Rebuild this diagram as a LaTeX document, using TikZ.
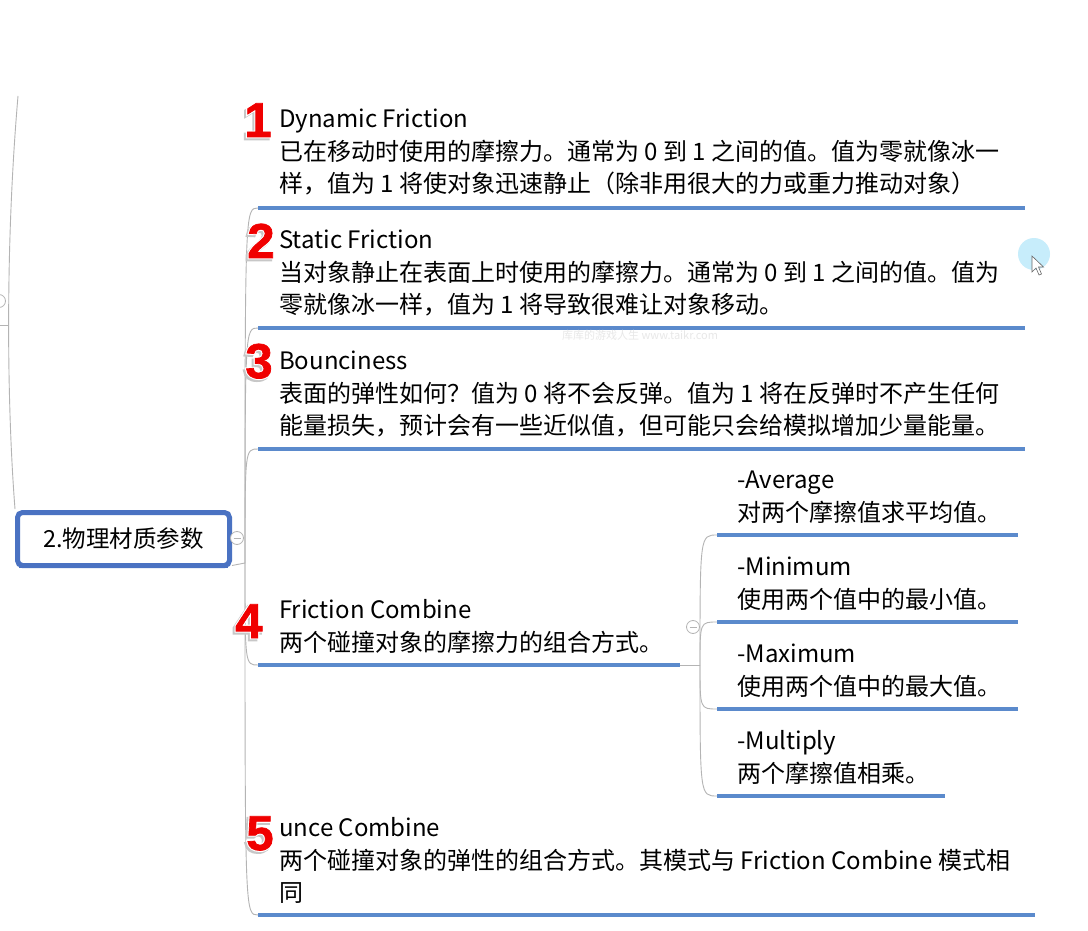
\documentclass[tikz,border=0pt]{standalone}
\usepackage{fontspec}
\setmainfont{Noto Sans CJK SC}
\newfontfamily\numfont{Liberation Sans Bold}[FakeBold=1.5]
\newfontfamily\halofont{Liberation Sans Bold}[FakeBold=6]
\usetikzlibrary{calc}
\definecolor{ublue}{HTML}{5B8ACC}
\definecolor{bblue}{HTML}{4A72C2}
\definecolor{lgrey}{HTML}{B4B4B4}
\definecolor{nred}{HTML}{F00000}
\tikzset{
  txt/.style={anchor=base west, inner sep=0pt, font=\fontsize{24}{28}\selectfont},
  uline/.style={draw=ublue, line width=4pt},
  conn/.style={draw=lgrey, line width=0.9pt},
  numlab/.style={anchor=base, inner sep=0pt, text=nred, font=\numfont\fontsize{49}{49}\selectfont},
  halo/.style={anchor=base, inner sep=0pt, text=white, font=\halofont\fontsize{49}{49}\selectfont},
  shade/.style={halo, text=black!22},
  toggle/.style={circle, draw=lgrey, fill=white, minimum size=13pt, inner sep=0pt, line width=0.8pt},
}
\newcommand\nummark[3]{%
  \node[shade, xshift=-2pt, yshift=-2pt] (#1s) at (#2) {#3};
  \node[halo] (#1h) at (#2) {#3};
  \node[numlab] (#1) at (#2) {#3};
}
\begin{document}
\begin{tikzpicture}[x=1pt,y=-1pt]
\fill[white] (0,0) rectangle (1088,931);
\useasboundingbox (0,0) rectangle (1088,931);

% left partial branch
\coordinate (ltop) at (18,96);
\coordinate (lstub) at (0,325);
\node[toggle] (tg0) at (-1,301) {};
\draw[conn] (lstub) -- ++(8,0);

% root
\node[draw=bblue, line width=5pt, rounded corners=5pt, minimum width=212pt, minimum height=53pt,
      fill=white, inner sep=0pt, font=\fontsize{23.5}{28}\selectfont] (root) at (123.5,539) {2.物理材质参数};
\draw[bblue, line width=4pt] ($(root.south west)+(4,-2.5)$) -- ($(root.south east)+(-4,-2.5)$);
\draw[conn] (ltop) .. controls (4,260) and (8,420) .. ($(root.north west)+(0,-1)$);

% hub and topic anchors
\coordinate (hub) at (245,563);
\coordinate (u1) at (258,208); \coordinate (u1e) at (1025,208);
\coordinate (u2) at (258,328); \coordinate (u2e) at (1025,328);
\coordinate (u3) at (258,449); \coordinate (u3e) at (1025,449);
\coordinate (u4) at (258,665); \coordinate (u4e) at (680,665);
\coordinate (u5) at (258,915); \coordinate (u5e) at (1035,915);

\draw[conn] ($(root.south east)+(0,-2.5)$) -- (hub);
\foreach \u in {u1,u2,u3,u4,u5}{\draw[conn] (hub) .. controls (hub |- \u) .. (\u);}
\node[toggle] (tg1) at (237,538) {};
\draw[lgrey, line width=0.8pt] ($(tg1.center)+(-3.5,0)$) -- ($(tg1.center)+(3.5,0)$);

% sub hub
\coordinate (shub) at (700,665);
\coordinate (s1) at (717,535); \coordinate (s1e) at (1018,535);
\coordinate (s2) at (717,622); \coordinate (s2e) at (1018,622);
\coordinate (s3) at (717,709); \coordinate (s3e) at (1018,709);
\coordinate (s4) at (717,796); \coordinate (s4e) at (945,796);
\draw[conn] (u4e) -- (shub);
\foreach \s in {s1,s2,s3,s4}{\draw[conn] (shub) .. controls (shub |- \s) .. (\s);}
\node[toggle] (tg2) at (693,627) {};
\draw[lgrey, line width=0.8pt] ($(tg2.center)+(-3.5,0)$) -- ($(tg2.center)+(3.5,0)$);

% underlines
\foreach \u in {u1,u2,u3,u4,u5,s1,s2,s3,s4}{\draw[uline] (\u) -- (\u e);}

% topic texts
\node[txt] (t1a) at (279,128) {Dynamic Friction};
\node[txt] (t1b) at (279,161) {已在移动时使用的摩擦力。通常为 0 到 1 之间的值。值为零就像冰一};
\node[txt] (t1c) at (279,193) {样，值为 1 将使对象迅速静止（除非用很大的力或重力推动对象）};

\node[txt] (t2a) at (279,248) {Static Friction};
\node[txt] (t2b) at (279,281) {当对象静止在表面上时使用的摩擦力。通常为 0 到 1 之间的值。值为};
\node[txt] (t2c) at (279,313) {零就像冰一样，值为 1 将导致很难让对象移动。};

\node[txt] (t3a) at (279,369) {Bounciness};
\node[txt] (t3b) at (279,402) {表面的弹性如何？值为 0 将不会反弹。值为 1 将在反弹时不产生任何};
\node[txt] (t3c) at (279,434) {能量损失，预计会有一些近似值，但可能只会给模拟增加少量能量。};

\node[txt] (t4a) at (279,618) {Friction Combine};
\node[txt] (t4b) at (279,651) {两个碰撞对象的摩擦力的组合方式。};

\node[txt] (t5a) at (279,836) {unce Combine};
\node[txt] (t5b) at (279,869) {两个碰撞对象的弹性的组合方式。其模式与 Friction Combine 模式相};
\node[txt] (t5c) at (279,901) {同};

% sub texts
\node[txt] (s1a) at (737,488) {-Average};
\node[txt] (s1b) at (737,521) {对两个摩擦值求平均值。};
\node[txt] (s2a) at (737,575) {-Minimum};
\node[txt] (s2b) at (737,608) {使用两个值中的最小值。};
\node[txt] (s3a) at (737,662) {-Maximum};
\node[txt] (s3b) at (737,695) {使用两个值中的最大值。};
\node[txt] (s4a) at (737,749) {-Multiply};
\node[txt] (s4b) at (737,782) {两个摩擦值相乘。};

% red numbers
\coordinate (p1) at (258,137);
\coordinate (p2) at (261,258);
\coordinate (p3) at (259,378);
\coordinate (p4) at (249,638);
\coordinate (p5) at (260,850);
\nummark{n1}{p1}{1}
\nummark{n2}{p2}{2}
\nummark{n3}{p3}{3}
\nummark{n4}{p4}{4}
\nummark{n5}{p5}{5}

% watermark
\node[anchor=base west, inner sep=0pt, text=black!9, font=\fontsize{11}{13}\selectfont] (wm) at (562,339) {库库的游戏人生 www.taikr.com};

% cursor
\fill[cyan!22] (1034,254) circle (16);
\coordinate (cur) at (1032,256);
\draw[black!60, fill=white, line width=0.6pt] (cur) -- ++(0,16) -- ++(4,-4) -- ++(3,7) -- ++(2.5,-1) -- ++(-3,-7) -- ++(5,0) -- cycle;
\end{tikzpicture}
\end{document}
